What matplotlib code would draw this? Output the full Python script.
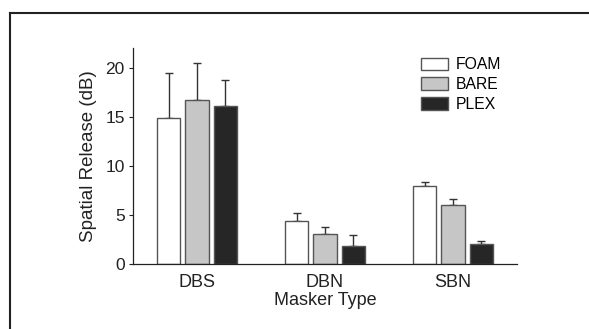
import matplotlib.pyplot as plt
import numpy as np
from matplotlib.lines import Line2D

plt.rcParams['font.family'] = ['Liberation Sans', 'DejaVu Sans']

maskers = ['DBS', 'DBN', 'SBN']
conditions = ['FOAM', 'BARE', 'PLEX']
foam = [14.9, 4.4, 7.9]
bare = [16.7, 3.1, 6.0]
plex = [16.05, 1.85, 2.0]
foam_err = [4.6, 0.78, 0.41]
bare_err = [3.8, 0.64, 0.65]
plex_err = [2.65, 1.06, 0.38]

colors = ['#ffffff', '#c6c6c6', '#262626']
means = [foam, bare, plex]
errs = [foam_err, bare_err, plex_err]

fig = plt.figure(figsize=(5.89, 3.29), dpi=100)
ax = fig.add_axes([0.2258, 0.1976, 0.652, 0.6564])

x = np.arange(len(maskers))
w = 0.18
step = 0.22
for i, (m, e, c, lab) in enumerate(zip(means, errs, colors, conditions)):
    pos = x + (i - 1) * step
    ax.bar(pos, m, width=w, color=c, edgecolor='#555555', linewidth=1.0, label=lab, zorder=2)
    ax.errorbar(pos, m, yerr=[np.zeros(len(e)), e], fmt='none', ecolor='#333333',
                elinewidth=1.0, capsize=3, capthick=1.0, zorder=1)

ax.set_xlim(-0.5, 2.5)
ax.set_ylim(0, 22)
ax.set_yticks([0, 5, 10, 15, 20])
ax.set_xticks(x)
ax.set_xticklabels(maskers)
ax.tick_params(axis='x', length=0, pad=7, labelsize=13, colors='#222222')
ax.tick_params(axis='y', length=3, width=0.8, pad=3, labelsize=12.5, colors='#222222')
for s in ['top', 'right']:
    ax.spines[s].set_visible(False)
for s in ['left', 'bottom']:
    ax.spines[s].set_linewidth(0.9)
    ax.spines[s].set_color('#222222')

ax.set_ylabel('Spatial Release (dB)', fontsize=13.5, color='#222222', labelpad=6)
ax.set_xlabel('Masker Type', fontsize=13, color='#222222', labelpad=1)

ax.legend(loc='upper left', bbox_to_anchor=(0.725, 1.0), frameon=False, fontsize=11.3,
          handlelength=1.7, handleheight=0.85, handletextpad=0.55, labelspacing=0.3,
          borderaxespad=0.2)

# outer frame (top and left edges only)
fig.add_artist(Line2D([0.017, 1.0], [0.9605, 0.9605], transform=fig.transFigure,
                      color='#222222', linewidth=1.5))
fig.add_artist(Line2D([0.017, 0.017], [0.0, 0.9605], transform=fig.transFigure,
                      color='#222222', linewidth=1.5))

fig.savefig('out.png', dpi=100)
